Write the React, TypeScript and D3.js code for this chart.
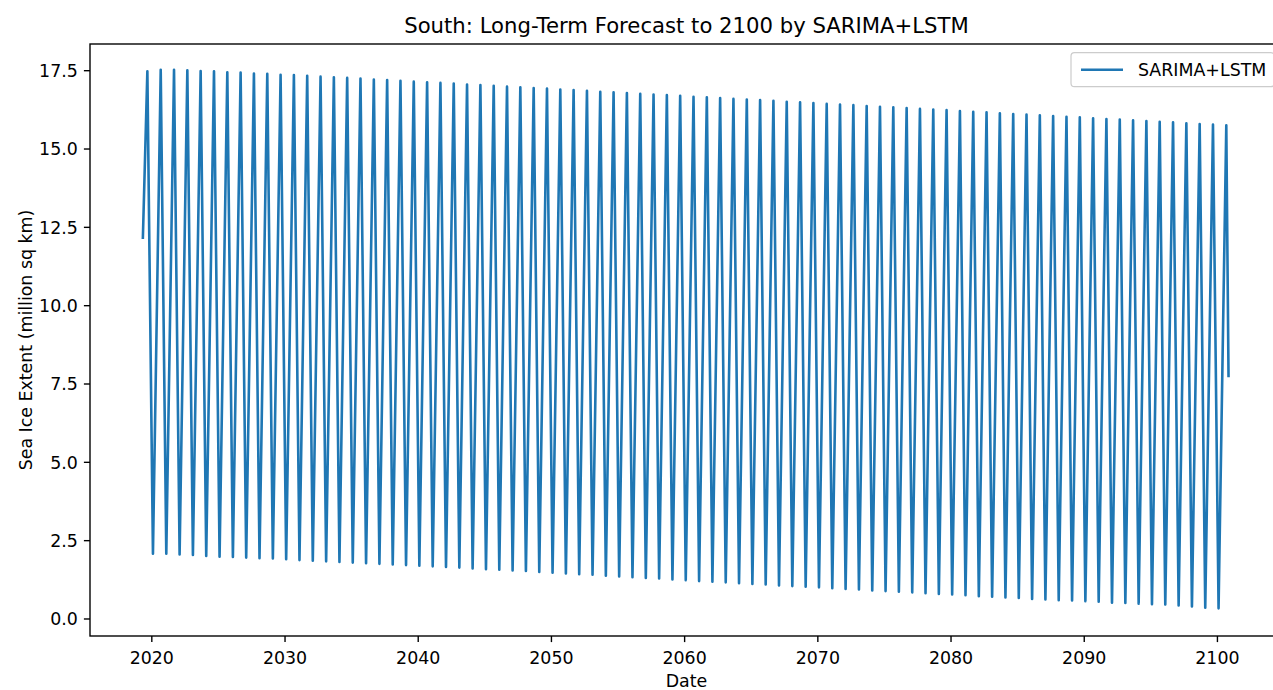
import React from "react";
import * as d3 from "d3";

// Seasonal maxima (September) of projected southern sea-ice extent, 2019–2100
const FIRST_MAX_YEAR = 2019;
const seasonMax: number[] = [
  17.48, 17.53, 17.53, 17.51, 17.49, 17.48, 17.45, 17.44, 17.41, 17.4,
  17.37, 17.36, 17.34, 17.31, 17.29, 17.27, 17.25, 17.22, 17.2, 17.18,
  17.15, 17.13, 17.11, 17.09, 17.06, 17.04, 17.02, 16.99, 16.97, 16.95,
  16.93, 16.9, 16.88, 16.86, 16.83, 16.81, 16.79, 16.76, 16.74, 16.72,
  16.7, 16.67, 16.65, 16.63, 16.6, 16.58, 16.56, 16.54, 16.51, 16.49,
  16.47, 16.44, 16.42, 16.4, 16.37, 16.35, 16.33, 16.31, 16.28, 16.26,
  16.24, 16.21, 16.19, 16.17, 16.14, 16.12, 16.1, 16.08, 16.05, 16.03,
  16.01, 15.98, 15.96, 15.94, 15.92, 15.89, 15.87, 15.85, 15.82, 15.8,
  15.78, 15.76,
];

// Seasonal minima (February), 2020–2100
const FIRST_MIN_YEAR = 2020;
const seasonMin: number[] = [
  2.08, 2.08, 2.06, 2.04, 2.01, 1.99, 1.98, 1.96, 1.94, 1.93,
  1.91, 1.88, 1.86, 1.84, 1.82, 1.8, 1.78, 1.76, 1.74, 1.72,
  1.7, 1.68, 1.66, 1.64, 1.61, 1.59, 1.57, 1.55, 1.53, 1.5,
  1.48, 1.45, 1.43, 1.41, 1.38, 1.36, 1.33, 1.31, 1.29, 1.26,
  1.24, 1.21, 1.19, 1.17, 1.14, 1.12, 1.1, 1.07, 1.05, 1.03,
  1.01, 0.98, 0.96, 0.94, 0.91, 0.89, 0.87, 0.85, 0.82, 0.8,
  0.78, 0.76, 0.73, 0.71, 0.69, 0.67, 0.64, 0.62, 0.6, 0.59,
  0.57, 0.55, 0.52, 0.51, 0.49, 0.47, 0.46, 0.43, 0.4, 0.36,
  0.34,
];

// First and last forecast months
const forecastStart = { year: 2019, month: 4, value: 12.17 }; // May 2019
const forecastEnd = { year: 2100, month: 10, value: 7.76 }; // Nov 2100

const xTickYears = [2020, 2030, 2040, 2050, 2060, 2070, 2080, 2090, 2100];
const yTickValues = [0, 2.5, 5, 7.5, 10, 12.5, 15, 17.5];

const TITLE = "South: Long-Term Forecast to 2100 by SARIMA+LSTM";
const X_LABEL = "Date";
const Y_LABEL = "Sea Ice Extent (million sq km)";
const SERIES_NAME = "SARIMA+LSTM";

type Pt = { date: Date; value: number };

function buildSeries(): Pt[] {
  const pts: Pt[] = [];
  pts.push({ date: new Date(Date.UTC(forecastStart.year, forecastStart.month, 1)), value: forecastStart.value });
  seasonMax.forEach((v, i) => {
    const yr = FIRST_MAX_YEAR + i;
    pts.push({ date: new Date(Date.UTC(yr, 8, 1)), value: v });
    const j = yr + 1 - FIRST_MIN_YEAR;
    if (j >= 0 && j < seasonMin.length) {
      pts.push({ date: new Date(Date.UTC(yr + 1, 1, 1)), value: seasonMin[j] });
    }
  });
  pts.push({ date: new Date(Date.UTC(forecastEnd.year, forecastEnd.month, 1)), value: forecastEnd.value });
  return pts;
}

const W = 1273;
const H = 690;
const FONT = "'DejaVu Sans', Verdana, sans-serif";
const LINE_COLOR = "#1f77b4";

export default function App() {
  const left = 90;
  const right = 1283;
  const top = 44;
  const bottom = 636;

  const data = buildSeries();

  const x = d3
    .scaleUtc()
    .domain([new Date(Date.UTC(2015, 4, 12)), new Date(Date.UTC(2104, 11, 4))])
    .range([left, right]);
  const y = d3.scaleLinear().domain([-0.543, 18.352]).range([bottom, top]);

  const line = d3
    .line<Pt>()
    .x((d) => x(d.date))
    .y((d) => y(d.value));

  const tickLen = 6.1;
  const tickPad = 6.1;
  const fs = 17.4;

  // legend geometry
  const lgLeft = 1071;
  const lgRight = right - 8.7;
  const lgTop = top + 8.7;
  const lgH = 34;
  const lgMid = lgTop + lgH / 2;
  const handleX1 = 1081;
  const handleX2 = 1123;
  const labelX = 1138;

  return (
    <svg
      width={W}
      height={H}
      style={{ position: "absolute", left: 0, top: 0, background: "#fff" }}
      fontFamily={FONT}
    >
      <rect x={0} y={0} width={W} height={H} fill="#fff" />
      <text x={(left + right) / 2} y={32.5} textAnchor="middle" fontSize={21.2} fill="#000">
        {TITLE}
      </text>

      <defs>
        <clipPath id="plot-area">
          <rect x={left} y={top} width={right - left} height={bottom - top} />
        </clipPath>
      </defs>

      <path
        d={line(data) ?? ""}
        fill="none"
        stroke={LINE_COLOR}
        strokeWidth={2.6}
        strokeLinejoin="round"
        strokeLinecap="square"
        clipPath="url(#plot-area)"
      />

      {/* axes frame */}
      <rect x={left} y={top} width={right - left} height={bottom - top} fill="none" stroke="#000" strokeWidth={1.39} />

      {/* y axis */}
      {yTickValues.map((v) => (
        <g key={"y" + v}>
          <line x1={left - tickLen} x2={left} y1={y(v)} y2={y(v)} stroke="#000" strokeWidth={1.39} />
          <text x={left - tickLen - tickPad} y={y(v) + 6.3} textAnchor="end" fontSize={fs} fill="#000">
            {v.toFixed(1)}
          </text>
        </g>
      ))}

      {/* x axis */}
      {xTickYears.map((yr) => {
        const px = x(new Date(Date.UTC(yr, 0, 1)));
        return (
          <g key={"x" + yr}>
            <line x1={px} x2={px} y1={bottom} y2={bottom + tickLen} stroke="#000" strokeWidth={1.39} />
            <text x={px} y={663.5} textAnchor="middle" fontSize={fs} fill="#000">
              {d3.utcFormat("%Y")(new Date(Date.UTC(yr, 0, 1)))}
            </text>
          </g>
        );
      })}

      <text x={(left + right) / 2} y={686.5} textAnchor="middle" fontSize={fs} fill="#000">
        {X_LABEL}
      </text>
      <text
        transform={`translate(32, ${(top + bottom) / 2}) rotate(-90)`}
        textAnchor="middle"
        fontSize={fs}
        fill="#000"
      >
        {Y_LABEL}
      </text>

      {/* legend */}
      <rect
        x={lgLeft}
        y={lgTop}
        width={lgRight - lgLeft}
        height={lgH}
        rx={3.5}
        fill="#fff"
        fillOpacity={0.8}
        stroke="#cccccc"
        strokeWidth={1.2}
      />
      <line x1={handleX1} x2={handleX2} y1={lgMid} y2={lgMid} stroke={LINE_COLOR} strokeWidth={2.6} />
      <text x={labelX} y={lgMid + 6.3} fontSize={fs} fill="#000">
        {SERIES_NAME}
      </text>
    </svg>
  );
}
